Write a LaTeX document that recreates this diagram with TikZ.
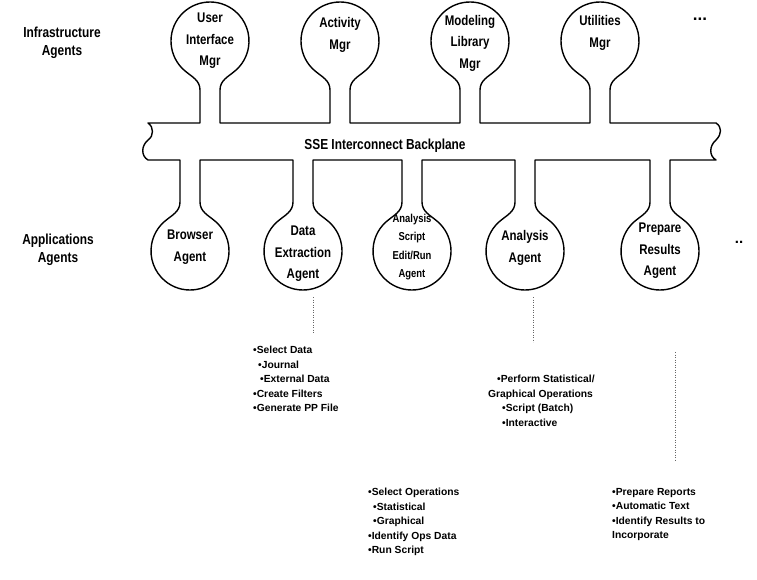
\documentclass[tikz,border=0pt]{standalone}
\usepackage{fontspec}
\setmainfont{Liberation Sans}
\newfontfamily\tallsans[FakeStretch=0.82]{Liberation Sans}
\begin{document}
\begin{tikzpicture}[x=1pt,y=1pt,
  outline/.style={line width=1.4pt,line join=round},
  agent/.style={align=center,font=\tallsans\fontsize{14}{21.5}\selectfont\bfseries,inner sep=0pt},
  smallagent/.style={align=center,font=\tallsans\fontsize{11.5}{18.5}\selectfont\bfseries,inner sep=0pt},
  group/.style={align=center,font=\tallsans\fontsize{14.5}{18}\selectfont\bfseries,inner sep=0pt},
  tasks/.style={align=left,anchor=north west,font=\fontsize{10.3}{14.5}\selectfont\bfseries,inner sep=0pt},
  trace/.style={dotted,line width=0.5pt,black!60}]
\useasboundingbox (0,0) rectangle (757,-580);
% bubble geometry: radius, neck half-width, flare join angle, neck length below the centre
\pgfmathsetmacro{\R}{39}
\pgfmathsetmacro{\W}{10}
\pgfmathsetmacro{\J}{40}
\pgfmathsetmacro{\N}{49}
\pgfmathsetmacro{\JX}{\R*sin(\J)}
\pgfmathsetmacro{\JY}{\R*cos(\J)}
\pgfmathsetmacro{\TC}{41}   % centre of the upper bubbles
\pgfmathsetmacro{\BC}{251}  % centre of the lower bubbles
\pgfmathsetmacro{\OutT}{180+\J}
\pgfmathsetmacro{\InB}{180-\J}
% backplane with all the agent bubbles as one outline
\draw[outline] (148,-123)
  \foreach \cx in {210,340,470,600} {
    -- (\cx-\W,-123) -- (\cx-\W,-\TC-\N)
    to[out=90,in=-\J] (\cx-\JX,-\TC-\JY)
    arc[start angle=270-\J, end angle=-90+\J, radius=\R]
    to[out=\OutT,in=90] (\cx+\W,-\TC-\N)
    -- (\cx+\W,-123) }
  -- (716,-123)
  .. controls (722,-127) and (722,-134) .. (716,-140)
  .. controls (709,-146) and (709,-156) .. (716,-160)
  \foreach \cx in {660,525,412,303,190} {
    -- (\cx+\W,-160) -- (\cx+\W,-\BC+\N)
    to[out=-90,in=\InB] (\cx+\JX,-\BC+\JY)
    arc[start angle=90-\J, end angle=-270+\J, radius=\R]
    to[out=\J,in=-90] (\cx-\W,-\BC+\N)
    -- (\cx-\W,-160) }
  -- (148,-160)
  .. controls (141,-156) and (141,-146) .. (148,-140)
  .. controls (154,-136) and (154,-127) .. (148,-123) -- cycle;

\node[group] (infra) at (62,-43) {Infrastructure\\Agents};
\node[group] (apps) at (58,-250) {Applications\\Agents};

\node[agent] (ui) at (210,-41) {User\\Interface\\Mgr};
\node[agent] (act) at (340,-35) {Activity\\Mgr};
\node[agent] (mod) at (470,-43) {Modeling\\Library\\Mgr};
\node[agent] (util) at (600,-33) {Utilities\\Mgr};
\node[font=\fontsize{17}{17}\selectfont\bfseries] (more1) at (700,-19) {...};

\node[group] (bp) at (385,-146) {SSE Interconnect Backplane};

\node[agent] (brow) at (190,-247) {Browser\\Agent};
\node[agent] (dext) at (303,-254) {Data\\Extraction\\Agent};
\node[smallagent] (ascr) at (412,-247) {Analysis\\Script\\Edit/Run\\Agent};
\node[agent] (anag) at (525,-248) {Analysis\\Agent};
\node[agent] (prep) at (660,-251) {Prepare\\Results\\Agent};
\node[font=\fontsize{15}{15}\selectfont\bfseries] (more2) at (739,-242) {..};

\node[tasks] (dtasks) at (253,-346) {•Select Data\\\hspace{5pt}•Journal\\\hspace{7pt}•External Data\\•Create Filters\\•Generate PP File};
\node[tasks] (atasks) at (488,-375) {\hspace{9pt}•Perform Statistical/\\Graphical Operations\\\hspace{14pt}•Script (Batch)\\\hspace{14pt}•Interactive};
\node[tasks] (stasks) at (368,-488) {•Select Operations\\\hspace{5pt}•Statistical\\\hspace{5pt}•Graphical\\•Identify Ops Data\\•Run Script};
\node[tasks] (ptasks) at (612,-488) {•Prepare Reports\\•Automatic Text\\•Identify Results to\\Incorporate};

\coordinate (d1) at (313,-297);
\coordinate (d2) at (533,-297);
\coordinate (d3) at (675,-352);
\draw[trace] (d1) -- (313,-334);
\draw[trace] (d2) -- (533,-342);
\draw[trace] (d3) -- (675,-460);
\end{tikzpicture}
\end{document}
